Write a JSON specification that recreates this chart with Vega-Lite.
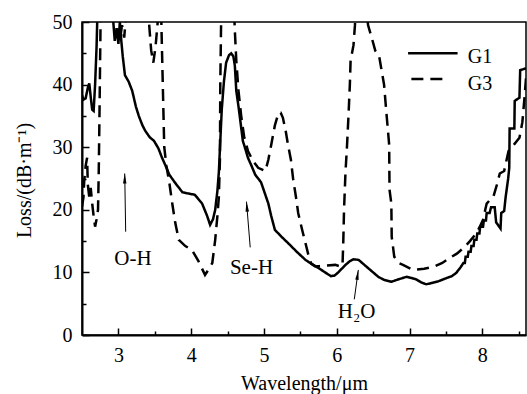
{
  "$schema": "https://vega.github.io/schema/vega-lite/v6.json",
  "width": 444,
  "height": 313,
  "autosize": "none",
  "padding": {"left": 82, "top": 22, "right": 1, "bottom": 59},
  "background": "white",
  "config": {
    "view": {"stroke": "black", "strokeWidth": 1.5},
    "font": "Liberation Serif"
  },
  "datasets": {
    "curves": [
      {"s":"G1","x":2.50,"y":38.3},{"s":"G1","x":2.52,"y":37.6},{"s":"G1","x":2.55,"y":37.8},{"s":"G1","x":2.58,"y":39.5},{"s":"G1","x":2.60,"y":40.2},{"s":"G1","x":2.62,"y":38},{"s":"G1","x":2.64,"y":36},{"s":"G1","x":2.66,"y":35.8},{"s":"G1","x":2.68,"y":40},{"s":"G1","x":2.70,"y":46},{"s":"G1","x":2.72,"y":55},{"s":"G1","x":2.78,"y":60},{"s":"G1","x":2.85,"y":58},{"s":"G1","x":2.90,"y":55},{"s":"G1","x":2.93,"y":50},{"s":"G1","x":2.95,"y":47},{"s":"G1","x":2.98,"y":49},{"s":"G1","x":3.00,"y":46.5},{"s":"G1","x":3.02,"y":50},{"s":"G1","x":3.04,"y":47},{"s":"G1","x":3.06,"y":44.5},{"s":"G1","x":3.09,"y":41.5},{"s":"G1","x":3.14,"y":40.5},{"s":"G1","x":3.19,"y":39},{"s":"G1","x":3.24,"y":36.5},{"s":"G1","x":3.28,"y":35},{"s":"G1","x":3.33,"y":33.5},{"s":"G1","x":3.37,"y":32.6},{"s":"G1","x":3.43,"y":31.6},{"s":"G1","x":3.49,"y":31},{"s":"G1","x":3.55,"y":29.8},{"s":"G1","x":3.60,"y":28.3},{"s":"G1","x":3.65,"y":27},{"s":"G1","x":3.70,"y":25.6},{"s":"G1","x":3.78,"y":24.3},{"s":"G1","x":3.88,"y":22.8},{"s":"G1","x":3.96,"y":22.6},{"s":"G1","x":4.05,"y":22.4},{"s":"G1","x":4.15,"y":21},{"s":"G1","x":4.22,"y":19},{"s":"G1","x":4.26,"y":17.6},{"s":"G1","x":4.30,"y":18.5},{"s":"G1","x":4.33,"y":20},{"s":"G1","x":4.36,"y":23},{"s":"G1","x":4.38,"y":26},{"s":"G1","x":4.40,"y":31},{"s":"G1","x":4.42,"y":36},{"s":"G1","x":4.45,"y":40.5},{"s":"G1","x":4.48,"y":43.5},{"s":"G1","x":4.52,"y":44.7},{"s":"G1","x":4.55,"y":45},{"s":"G1","x":4.58,"y":44.5},{"s":"G1","x":4.60,"y":43},{"s":"G1","x":4.62,"y":39},{"s":"G1","x":4.65,"y":36.5},{"s":"G1","x":4.67,"y":34.7},{"s":"G1","x":4.71,"y":31},{"s":"G1","x":4.75,"y":29.5},{"s":"G1","x":4.78,"y":28.3},{"s":"G1","x":4.83,"y":27},{"s":"G1","x":4.88,"y":25.6},{"s":"G1","x":4.96,"y":24.4},{"s":"G1","x":5.06,"y":21},{"s":"G1","x":5.10,"y":19},{"s":"G1","x":5.15,"y":16.8},{"s":"G1","x":5.24,"y":15.7},{"s":"G1","x":5.33,"y":14.7},{"s":"G1","x":5.45,"y":13.3},{"s":"G1","x":5.57,"y":12},{"s":"G1","x":5.66,"y":11.3},{"s":"G1","x":5.75,"y":10.7},{"s":"G1","x":5.84,"y":10},{"s":"G1","x":5.92,"y":9.4},{"s":"G1","x":5.97,"y":9.5},{"s":"G1","x":6.02,"y":10},{"s":"G1","x":6.07,"y":10.6},{"s":"G1","x":6.12,"y":11.2},{"s":"G1","x":6.18,"y":11.8},{"s":"G1","x":6.23,"y":12.1},{"s":"G1","x":6.30,"y":12},{"s":"G1","x":6.36,"y":11.4},{"s":"G1","x":6.43,"y":10.7},{"s":"G1","x":6.50,"y":10},{"s":"G1","x":6.57,"y":9.3},{"s":"G1","x":6.65,"y":8.8},{"s":"G1","x":6.75,"y":8.5},{"s":"G1","x":6.85,"y":8.9},{"s":"G1","x":6.96,"y":9.3},{"s":"G1","x":7.03,"y":9.1},{"s":"G1","x":7.09,"y":8.9},{"s":"G1","x":7.16,"y":8.4},{"s":"G1","x":7.23,"y":8.1},{"s":"G1","x":7.30,"y":8.3},{"s":"G1","x":7.40,"y":8.6},{"s":"G1","x":7.51,"y":9.1},{"s":"G1","x":7.58,"y":9.4},{"s":"G1","x":7.64,"y":9.9},{"s":"G1","x":7.70,"y":10.8},{"s":"G1","x":7.74,"y":11.5},{"s":"G1","x":7.76,"y":11.5},{"s":"G1","x":7.77,"y":12.5},{"s":"G1","x":7.80,"y":12.5},{"s":"G1","x":7.81,"y":13.3},{"s":"G1","x":7.84,"y":13.3},{"s":"G1","x":7.85,"y":14.2},{"s":"G1","x":7.88,"y":14.2},{"s":"G1","x":7.89,"y":15.2},{"s":"G1","x":7.92,"y":15.2},{"s":"G1","x":7.93,"y":16.2},{"s":"G1","x":7.96,"y":16.2},{"s":"G1","x":7.97,"y":17.3},{"s":"G1","x":8.01,"y":17.3},{"s":"G1","x":8.02,"y":18.3},{"s":"G1","x":8.05,"y":18.3},{"s":"G1","x":8.06,"y":19.5},{"s":"G1","x":8.10,"y":19.5},{"s":"G1","x":8.12,"y":20.4},{"s":"G1","x":8.17,"y":20.4},{"s":"G1","x":8.19,"y":18},{"s":"G1","x":8.22,"y":17.5},{"s":"G1","x":8.25,"y":17},{"s":"G1","x":8.26,"y":19.5},{"s":"G1","x":8.30,"y":19.8},{"s":"G1","x":8.32,"y":22},{"s":"G1","x":8.355,"y":25},{"s":"G1","x":8.37,"y":26.7},{"s":"G1","x":8.375,"y":33},{"s":"G1","x":8.44,"y":33},{"s":"G1","x":8.445,"y":37.4},{"s":"G1","x":8.51,"y":37.9},{"s":"G1","x":8.52,"y":42.3},{"s":"G1","x":8.60,"y":42.6},
      {"s":"G3","x":2.50,"y":20.5},{"s":"G3","x":2.52,"y":22},{"s":"G3","x":2.53,"y":24.5},{"s":"G3","x":2.55,"y":27},{"s":"G3","x":2.57,"y":28.3},{"s":"G3","x":2.58,"y":24},{"s":"G3","x":2.60,"y":22},{"s":"G3","x":2.62,"y":23.5},{"s":"G3","x":2.64,"y":21},{"s":"G3","x":2.66,"y":19},{"s":"G3","x":2.68,"y":17.3},{"s":"G3","x":2.70,"y":18.5},{"s":"G3","x":2.72,"y":20},{"s":"G3","x":2.73,"y":26},{"s":"G3","x":2.74,"y":35},{"s":"G3","x":2.75,"y":45},{"s":"G3","x":2.76,"y":55},{"s":"G3","x":2.85,"y":60},{"s":"G3","x":2.95,"y":53},{"s":"G3","x":2.98,"y":48},{"s":"G3","x":3.02,"y":47},{"s":"G3","x":3.05,"y":49.5},{"s":"G3","x":3.08,"y":47.5},{"s":"G3","x":3.11,"y":52},{"s":"G3","x":3.20,"y":60},{"s":"G3","x":3.35,"y":58},{"s":"G3","x":3.42,"y":50},{"s":"G3","x":3.45,"y":45.5},{"s":"G3","x":3.48,"y":43.5},{"s":"G3","x":3.51,"y":46},{"s":"G3","x":3.54,"y":50},{"s":"G3","x":3.57,"y":55},{"s":"G3","x":3.59,"y":50},{"s":"G3","x":3.61,"y":40},{"s":"G3","x":3.63,"y":30},{"s":"G3","x":3.66,"y":27},{"s":"G3","x":3.70,"y":24.3},{"s":"G3","x":3.74,"y":21},{"s":"G3","x":3.78,"y":18},{"s":"G3","x":3.83,"y":15.2},{"s":"G3","x":3.92,"y":14.2},{"s":"G3","x":4.01,"y":13.6},{"s":"G3","x":4.10,"y":11.8},{"s":"G3","x":4.19,"y":9.6},{"s":"G3","x":4.24,"y":10.5},{"s":"G3","x":4.29,"y":11.5},{"s":"G3","x":4.33,"y":15.2},{"s":"G3","x":4.36,"y":19},{"s":"G3","x":4.38,"y":22},{"s":"G3","x":4.395,"y":28},{"s":"G3","x":4.40,"y":40},{"s":"G3","x":4.41,"y":49},{"s":"G3","x":4.42,"y":55},{"s":"G3","x":4.50,"y":60},{"s":"G3","x":4.58,"y":55},{"s":"G3","x":4.60,"y":48.6},{"s":"G3","x":4.62,"y":43.8},{"s":"G3","x":4.65,"y":39},{"s":"G3","x":4.69,"y":34.7},{"s":"G3","x":4.73,"y":31.5},{"s":"G3","x":4.78,"y":29.4},{"s":"G3","x":4.85,"y":27.8},{"s":"G3","x":4.92,"y":26.7},{"s":"G3","x":5.02,"y":26.2},{"s":"G3","x":5.06,"y":28},{"s":"G3","x":5.10,"y":30.4},{"s":"G3","x":5.15,"y":33.5},{"s":"G3","x":5.20,"y":35.5},{"s":"G3","x":5.23,"y":35.5},{"s":"G3","x":5.26,"y":34.7},{"s":"G3","x":5.30,"y":32.5},{"s":"G3","x":5.33,"y":30.4},{"s":"G3","x":5.37,"y":28},{"s":"G3","x":5.40,"y":25},{"s":"G3","x":5.44,"y":22},{"s":"G3","x":5.47,"y":19.5},{"s":"G3","x":5.52,"y":17},{"s":"G3","x":5.57,"y":14.7},{"s":"G3","x":5.61,"y":12.8},{"s":"G3","x":5.65,"y":11.4},{"s":"G3","x":5.70,"y":11},{"s":"G3","x":5.76,"y":11},{"s":"G3","x":5.85,"y":11.1},{"s":"G3","x":5.98,"y":11.2},{"s":"G3","x":6.06,"y":10.9},{"s":"G3","x":6.08,"y":11.5},{"s":"G3","x":6.09,"y":15},{"s":"G3","x":6.10,"y":20},{"s":"G3","x":6.12,"y":26},{"s":"G3","x":6.14,"y":30},{"s":"G3","x":6.16,"y":34.7},{"s":"G3","x":6.18,"y":40},{"s":"G3","x":6.19,"y":43.8},{"s":"G3","x":6.23,"y":46.3},{"s":"G3","x":6.25,"y":49.5},{"s":"G3","x":6.27,"y":55},{"s":"G3","x":6.35,"y":58},{"s":"G3","x":6.40,"y":53},{"s":"G3","x":6.43,"y":49.5},{"s":"G3","x":6.48,"y":47.5},{"s":"G3","x":6.53,"y":45.4},{"s":"G3","x":6.58,"y":44.7},{"s":"G3","x":6.62,"y":42},{"s":"G3","x":6.65,"y":40},{"s":"G3","x":6.68,"y":35.8},{"s":"G3","x":6.72,"y":30.4},{"s":"G3","x":6.725,"y":23.2},{"s":"G3","x":6.75,"y":21},{"s":"G3","x":6.755,"y":15.7},{"s":"G3","x":6.79,"y":12.5},{"s":"G3","x":6.85,"y":11.5},{"s":"G3","x":6.91,"y":11.2},{"s":"G3","x":7.05,"y":10.4},{"s":"G3","x":7.20,"y":10.6},{"s":"G3","x":7.33,"y":10.9},{"s":"G3","x":7.45,"y":11.5},{"s":"G3","x":7.55,"y":12.3},{"s":"G3","x":7.65,"y":13},{"s":"G3","x":7.74,"y":13.9},{"s":"G3","x":7.83,"y":15},{"s":"G3","x":7.92,"y":16.3},{"s":"G3","x":7.97,"y":17.4},{"s":"G3","x":8.01,"y":18.4},{"s":"G3","x":8.04,"y":20},{"s":"G3","x":8.06,"y":21},{"s":"G3","x":8.10,"y":21.5},{"s":"G3","x":8.15,"y":22},{"s":"G3","x":8.20,"y":24},{"s":"G3","x":8.24,"y":25.8},{"s":"G3","x":8.30,"y":26.2},{"s":"G3","x":8.36,"y":29.4},{"s":"G3","x":8.44,"y":30.5},{"s":"G3","x":8.51,"y":31.5},{"s":"G3","x":8.55,"y":34},{"s":"G3","x":8.58,"y":38},{"s":"G3","x":8.60,"y":41}
    ],
    "notes": [
      {"t":"O-H","x":3.199,"y":11.2},
      {"t":"Se-H","x":4.829,"y":9.74},
      {"t":"H₂O","x":6.273,"y":2.7}
    ],
    "arrows": [
      {"n":"O-H","x":3.10,"y":16.5,"x2":3.087,"y2":25.8},
      {"n":"Se-H","x":4.811,"y":14.0,"x2":4.760,"y2":21.3},
      {"n":"H2O","x":6.241,"y":5.7,"x2":6.296,"y2":10.4}
    ],
    "legendLines": [
      {"s":"G1","x":6.98,"x2":7.66,"y":45.0},
      {"s":"G3","x":7.025,"x2":7.507,"y":40.9}
    ],
    "legendText": [
      {"t":"G1","x":7.80,"y":43.4},
      {"t":"G3","x":7.80,"y":39.2}
    ]
  },
  "resolve": {"axis": {"x": "independent", "y": "independent"}},
  "layer": [
    {
      "data": {"name": "curves"},
      "mark": {"type": "line", "clip": true, "color": "black", "strokeWidth": 2.5},
      "encoding": {
        "x": {"field": "x", "type": "quantitative",
          "scale": {"domain": [2.5, 8.6], "nice": false, "zero": false},
          "axis": {"values": [3,4,5,6,7,8], "tickSize": -7, "tickWidth": 1.5, "tickColor": "black",
            "labelPadding": 17, "labelFont": "Liberation Serif", "labelFontSize": 20, "labelColor": "black",
            "domainColor": "black", "domainWidth": 2, "grid": false,
            "title": "Wavelength/μm", "titleFont": "Liberation Serif", "titleFontSize": 20, "titleFontWeight": "normal",
            "titleColor": "black", "titleBaseline": "alphabetic", "titleY": 54}},
        "y": {"field": "y", "type": "quantitative",
          "scale": {"domain": [0, 50], "nice": false, "zero": false},
          "axis": {"values": [0,10,20,30,40,50], "tickSize": -7, "tickWidth": 1.5, "tickColor": "black",
            "labelPadding": 17, "labelFont": "Liberation Serif", "labelFontSize": 20, "labelColor": "black",
            "domainColor": "black", "domainWidth": 2, "grid": false,
            "title": "Loss/(dB·m⁻¹)", "titleFont": "Liberation Serif", "titleFontSize": 20, "titleFontWeight": "normal",
            "titleColor": "black", "titleBaseline": "alphabetic", "titleX": -52, "titleY": 158, "titleAlign": "center", "titleAngle": -90}},
        "detail": {"field": "s"},
        "strokeDash": {"field": "s", "type": "nominal",
          "scale": {"domain": ["G1", "G3"], "range": [[1, 0], [12, 7]]}, "legend": null}
      }
    },
    {
      "data": {"name": "notes"},
      "mark": {"type": "text", "font": "Liberation Serif", "fontSize": 21, "align": "center", "baseline": "alphabetic", "color": "black"},
      "encoding": {
        "x": {"field": "x", "type": "quantitative",
          "axis": {"orient": "bottom", "values": [3.5,4.5,5.5,6.5,7.5,8.5], "tickSize": -4, "tickWidth": 1.5, "tickColor": "black",
            "labels": false, "domain": false, "grid": false, "title": null}},
        "y": {"field": "y", "type": "quantitative",
          "axis": {"orient": "left", "values": [5,15,25,35,45], "tickSize": -4, "tickWidth": 1.5, "tickColor": "black",
            "labels": false, "domain": false, "grid": false, "title": null}},
        "text": {"field": "t"}
      }
    },
    {
      "data": {"name": "arrows"},
      "mark": {"type": "rule", "color": "black", "strokeWidth": 1},
      "encoding": {
        "x": {"field": "x", "type": "quantitative", "axis": null},
        "y": {"field": "y", "type": "quantitative", "axis": null},
        "x2": {"field": "x2"},
        "y2": {"field": "y2"}
      }
    },
    {
      "data": {"name": "arrows"},
      "transform": [{"filter": "datum.n === 'O-H'"}],
      "mark": {"type": "point", "shape": "M0,0L0.35,2L-0.35,2Z", "filled": true, "color": "black", "size": 100, "opacity": 1},
      "encoding": {
        "x": {"field": "x2", "type": "quantitative", "axis": null},
        "y": {"field": "y2", "type": "quantitative", "axis": null}
      }
    },
    {
      "data": {"name": "arrows"},
      "transform": [{"filter": "datum.n === 'Se-H'"}],
      "mark": {"type": "point", "shape": "M0,0L0.35,2L-0.35,2Z", "filled": true, "color": "black", "size": 100, "opacity": 1, "angle": -4.6},
      "encoding": {
        "x": {"field": "x2", "type": "quantitative", "axis": null},
        "y": {"field": "y2", "type": "quantitative", "axis": null}
      }
    },
    {
      "data": {"name": "arrows"},
      "transform": [{"filter": "datum.n === 'H2O'"}],
      "mark": {"type": "point", "shape": "M0,0L0.35,2L-0.35,2Z", "filled": true, "color": "black", "size": 100, "opacity": 1, "angle": 7.9},
      "encoding": {
        "x": {"field": "x2", "type": "quantitative", "axis": null},
        "y": {"field": "y2", "type": "quantitative", "axis": null}
      }
    },
    {
      "data": {"name": "legendLines"},
      "mark": {"type": "rule", "color": "black", "strokeWidth": 2.5},
      "encoding": {
        "x": {"field": "x", "type": "quantitative", "axis": null},
        "x2": {"field": "x2"},
        "y": {"field": "y", "type": "quantitative", "axis": null},
        "strokeDash": {"field": "s", "type": "nominal", "legend": null}
      }
    },
    {
      "data": {"name": "legendText"},
      "mark": {"type": "text", "font": "Liberation Serif", "fontSize": 20, "align": "left", "baseline": "alphabetic", "color": "black"},
      "encoding": {
        "x": {"field": "x", "type": "quantitative", "axis": null},
        "y": {"field": "y", "type": "quantitative", "axis": null},
        "text": {"field": "t"}
      }
    }
  ]
}
